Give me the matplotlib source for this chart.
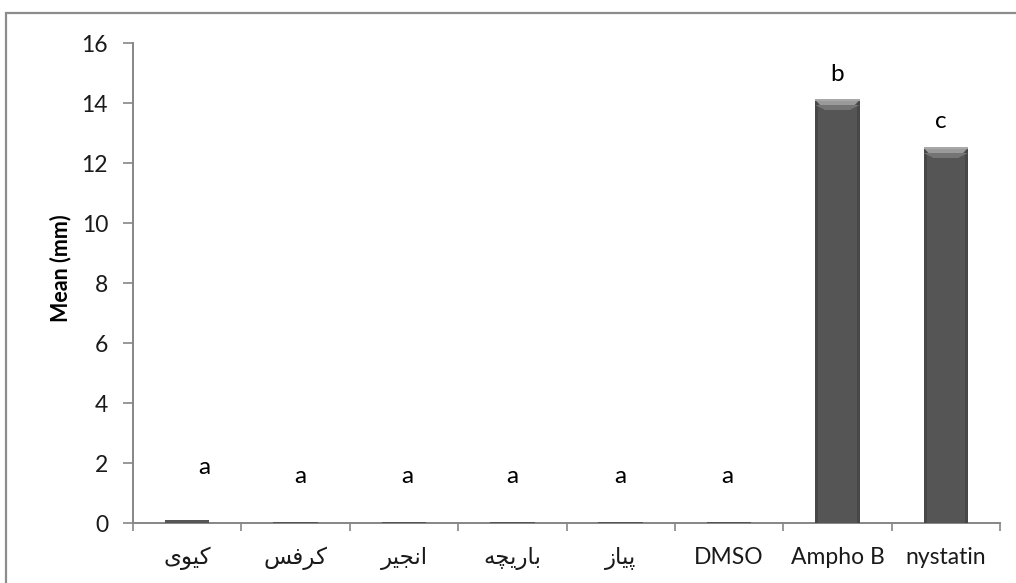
import matplotlib
matplotlib.use('Agg')
import matplotlib.pyplot as plt
from matplotlib.patches import Polygon, Rectangle
import numpy as np

# treatments, mean inhibition zone (mm) and significance letters
categories = ['کیوی', 'کرفس', 'انجیر', 'باریچه', 'پیاز', 'DMSO', 'Ampho B', 'nystatin']
means = [0.1, 0.05, 0.05, 0.05, 0.05, 0.05, 14.1, 12.5]
letters = ['a', 'a', 'a', 'a', 'a', 'a', 'b', 'c']
letter_y = [1.85, 1.55, 1.55, 1.55, 1.55, 1.55, 14.95, 13.4]
letter_dx = [0.16, 0.04, 0.03, 0.0, 0.0, -0.02, 0.0, -0.05]
yticks = [0, 2, 4, 6, 8, 10, 12, 14, 16]

# Arabic presentation forms: (isolated, final, initial, medial)
FORMS = {
    '\u0627': ('\uFE8D', '\uFE8E', None, None),       # alef
    '\u0628': ('\uFE8F', '\uFE90', '\uFE91', '\uFE92'),  # beh
    '\u067E': ('\uFB56', '\uFB57', '\uFB58', '\uFB59'),  # peh
    '\u062C': ('\uFE9D', '\uFE9E', '\uFE9F', '\uFEA0'),  # jeem
    '\u0686': ('\uFB7A', '\uFB7B', '\uFB7C', '\uFB7D'),  # tcheh
    '\u0631': ('\uFEAD', '\uFEAE', None, None),       # reh
    '\u0632': ('\uFEAF', '\uFEB0', None, None),       # zain
    '\u0633': ('\uFEB1', '\uFEB2', '\uFEB3', '\uFEB4'),  # seen
    '\u0641': ('\uFED1', '\uFED2', '\uFED3', '\uFED4'),  # feh
    '\u06A9': ('\uFB8E', '\uFB8F', '\uFB90', '\uFB91'),  # keheh
    '\u0646': ('\uFEE5', '\uFEE6', '\uFEE7', '\uFEE8'),  # noon
    '\u0647': ('\uFEE9', '\uFEEA', '\uFEEB', '\uFEEC'),  # heh
    '\u0648': ('\uFEED', '\uFEEE', None, None),       # waw
    '\u06CC': ('\uFBFC', '\uFBFD', '\uFBFE', '\uFBFF'),  # farsi yeh
}


def shape_rtl(text):
    """Minimal Persian shaping + reversal (matplotlib has no text shaping)."""
    if not any(ch in FORMS for ch in text):
        return text
    out = []
    for i, ch in enumerate(text):
        f = FORMS.get(ch)
        if f is None:
            out.append(ch)
            continue
        prev = text[i - 1] if i > 0 else None
        nxt = text[i + 1] if i + 1 < len(text) else None
        join_prev = prev in FORMS and FORMS[prev][2] is not None
        join_next = nxt in FORMS and f[2] is not None
        if join_prev and join_next:
            out.append(f[3])
        elif join_prev:
            out.append(f[1])
        elif join_next:
            out.append(f[2])
        else:
            out.append(f[0])
    return ''.join(reversed(out))


plt.rcParams['font.family'] = ['Lato', 'DejaVu Sans']
FS = 16.5

W, H = 1016, 583
fig = plt.figure(figsize=(W / 100, H / 100), dpi=100)
ax = fig.add_axes([133 / W, 1 - 523 / H, (1000 - 133) / W, (523 - 43) / H])

# outer chart-area frame (runs off the right and bottom edges)
fig.patches.append(Rectangle((6 / W, -0.1), 1.2, 1 - 13 / H + 0.1,
                             transform=fig.transFigure, fill=False,
                             ec='#8c8c8c', lw=1.6, zorder=0))

x = np.arange(len(categories))
bw = 0.41
ax.bar(x, means, width=bw, color='#555555', edgecolor='none', zorder=3)

# bevel on the tall bars
px_x = (1000 - 133) / 8.0
px_y = (523 - 43) / 16.0
for xi, h in zip(x, means):
    l, r = xi - bw / 2, xi + bw / 2
    if h < 1:
        continue
    dy, dx = 10 / px_y, 10 / px_x
    ax.add_patch(Polygon([(l, h), (r, h), (r - dx, h - dy), (l + dx, h - dy)],
                         closed=True, fc='#9a9a9a', ec='none', zorder=4))
    ax.add_patch(Polygon([(l, h - dy * 0.5), (r, h - dy * 0.5), (r - dx, h - dy), (l + dx, h - dy)],
                         closed=True, fc='#747474', ec='none', zorder=4))
    sdx = 3 / px_x
    ax.add_patch(Rectangle((l, 0), sdx, h, fc='#474747', ec='none', zorder=3.5))
    ax.add_patch(Rectangle((r - sdx, 0), sdx, h, fc='#474747', ec='none', zorder=3.5))
    ax.add_patch(Rectangle((l, h - 0.03), bw, 0.05, fc='#a8a8a8', ec='none', zorder=4))

for xi, lab, ly, dx in zip(x, letters, letter_y, letter_dx):
    ax.text(xi + dx, ly, lab, ha='center', va='center', fontsize=17.5, color='black')

ax.set_xlim(-0.5, len(categories) - 0.5)
ax.set_ylim(0, 16)
ax.set_yticks(yticks)
ax.set_yticklabels([str(v) for v in yticks])
ax.set_xticks(x)
ax.set_xticklabels([shape_rtl(c) for c in categories])
ax.set_xticks(np.arange(-0.5, len(categories)), minor=True)

ax.tick_params(axis='y', direction='out', length=7, width=1.2, color='#868686',
               labelsize=FS, pad=11, labelcolor='#1a1a1a')
ax.tick_params(axis='x', which='major', length=0, labelsize=FS, pad=17,
               labelcolor='#1a1a1a')
ax.tick_params(axis='x', which='minor', direction='out', length=6, width=1.2,
               color='#868686')

for side in ('top', 'right'):
    ax.spines[side].set_visible(False)
for side in ('left', 'bottom'):
    ax.spines[side].set_color('#868686')
    ax.spines[side].set_linewidth(1.4)

ax.set_ylabel('Mean (mm)', fontsize=15.5, fontweight='bold')
ax.yaxis.set_label_coords(-0.071, 0.53)

fig.savefig('out.png', dpi=100)
